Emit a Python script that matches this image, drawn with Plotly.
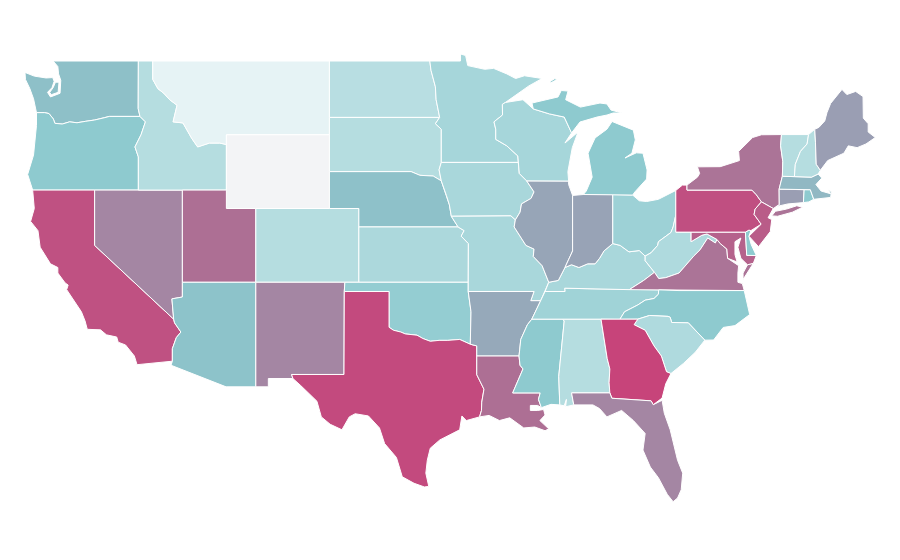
import plotly.graph_objects as go
from plotly.colors import sample_colorscale

# Plotly's own state shapes need a download, so the outlines are kept here as lon/lat pairs
wa = [(-122.82, 49), (-117.03, 49), (-117.04, 46.42), (-116.92, 45.995), (-119, 45.995), (-119.3, 45.93), (-120, 45.8), (-120.6, 45.73), (-121.2, 45.65), (-121.7, 45.7), (-122.2, 45.58), (-122.7, 45.62), (-122.8, 45.85), (-123.1, 46.15), (-123.4, 46.2), (-123.95, 46.2), (-124.05, 46.7), (-124.15, 46.95), (-124.4, 47.5), (-124.7, 48), (-124.73, 48.38), (-124.1, 48.18), (-123.3, 48.08), (-122.85, 48.1), (-122.75, 47.9), (-122.9, 47.55), (-123.2, 47.3), (-123, 47.05), (-122.35, 47.25), (-122.3, 47.95), (-122.45, 48.3), (-122.5, 48.7), None, (-122.66, 47.85), (-122.82, 47.55), (-123.05, 47.3), (-122.95, 47.17), (-122.48, 47.3), (-122.42, 47.85)]
or_ = [(-123.95, 46.2), (-123.4, 46.2), (-123.1, 46.15), (-122.8, 45.85), (-122.7, 45.62), (-122.2, 45.58), (-121.7, 45.7), (-121.2, 45.65), (-120.6, 45.73), (-120, 45.8), (-119.3, 45.93), (-119, 45.995), (-116.92, 45.995), (-116.55, 45.7), (-116.85, 45), (-117.26, 44.34), (-117.03, 43.8), (-117.03, 42), (-124.21, 42), (-124.55, 42.85), (-124.15, 43.9), (-124.05, 44.7), (-123.95, 45.5)]
ca = [(-124.21, 42), (-120, 42), (-120, 39), (-114.63, 35), (-114.57, 34.8), (-114.14, 34.3), (-114.45, 34), (-114.72, 33.4), (-114.72, 32.72), (-117.12, 32.53), (-117.3, 33), (-117.9, 33.6), (-118.4, 33.75), (-118.5, 34.03), (-119.2, 34.15), (-119.6, 34.42), (-120.5, 34.45), (-120.65, 34.9), (-120.9, 35.4), (-121.9, 36.6), (-121.8, 36.85), (-122, 36.96), (-122.5, 37.5), (-122.5, 37.8), (-123, 38), (-123.7, 38.9), (-123.85, 39.8), (-124.35, 40.3), (-124.1, 41)]
nv = [(-120, 42), (-114.04, 42), (-114.04, 36.2), (-114.75, 36.1), (-114.63, 35), (-120, 39)]
id_ = [(-117.03, 49), (-116.05, 49), (-116.05, 48), (-115.7, 47.5), (-115.3, 47.25), (-114.9, 46.9), (-114.4, 46.6), (-114.67, 45.7), (-114, 45.64), (-113.4, 44.8), (-113, 44.34), (-112.2, 44.55), (-111.5, 44.55), (-111.05, 44.47), (-111.05, 42), (-117.03, 42), (-117.03, 43.8), (-117.26, 44.34), (-116.85, 45), (-116.55, 45.7), (-116.92, 45.995), (-117.04, 46.42)]
mt = [(-116.05, 49), (-104.05, 49), (-104.05, 45), (-111.05, 45), (-111.05, 44.47), (-111.5, 44.55), (-112.2, 44.55), (-113, 44.34), (-113.4, 44.8), (-114, 45.64), (-114.67, 45.7), (-114.4, 46.6), (-114.9, 46.9), (-115.3, 47.25), (-115.7, 47.5), (-116.05, 48)]
wy = [(-111.05, 45), (-104.05, 45), (-104.05, 41), (-111.05, 41)]
ut = [(-114.04, 42), (-111.05, 42), (-111.05, 41), (-109.05, 41), (-109.05, 37), (-114.04, 37)]
co = [(-109.05, 41), (-102.05, 41), (-102.05, 37), (-109.05, 37)]
az = [(-114.04, 37), (-109.05, 37), (-109.05, 31.33), (-111.07, 31.33), (-114.81, 32.5), (-114.72, 32.72), (-114.72, 33.4), (-114.45, 34), (-114.14, 34.3), (-114.57, 34.8), (-114.63, 35), (-114.75, 36.1), (-114.04, 36.2)]
nm = [(-109.05, 37), (-103, 37), (-103.04, 36.5), (-103.06, 32), (-106.62, 32), (-106.53, 31.78), (-108.2, 31.78), (-108.2, 31.33), (-109.05, 31.33)]
nd = [(-104.05, 49), (-97.23, 49), (-97.15, 48.5), (-96.85, 47.6), (-96.8, 46.9), (-96.56, 45.94), (-104.05, 45.94)]
sd = [(-104.05, 45.94), (-96.56, 45.94), (-96.85, 45.6), (-96.45, 45.3), (-96.45, 43.5), (-96.6, 43.1), (-96.45, 42.5), (-97, 42.76), (-97.9, 42.8), (-98.5, 43), (-104.05, 43)]
ne = [(-104.05, 43), (-98.5, 43), (-97.9, 42.8), (-97, 42.76), (-96.45, 42.5), (-96.1, 41.7), (-95.9, 41.2), (-95.77, 40.58), (-95.31, 40), (-102.05, 40), (-102.05, 41), (-104.05, 41)]
ks = [(-102.05, 40), (-95.31, 40), (-94.9, 39.8), (-95.1, 39.5), (-94.61, 39.1), (-94.62, 37), (-102.05, 37)]
ok = [(-103, 37), (-94.62, 37), (-94.62, 36.5), (-94.43, 35.4), (-94.48, 33.64), (-95.2, 33.9), (-96, 33.85), (-96.6, 33.85), (-97.2, 33.8), (-97.7, 33.95), (-98.1, 34.13), (-98.9, 34.2), (-99.2, 34.3), (-99.7, 34.4), (-100, 34.56), (-100, 36.5), (-103.04, 36.5)]
tx = [(-106.62, 32), (-103.06, 32), (-103.04, 36.5), (-100, 36.5), (-100, 34.56), (-99.7, 34.4), (-99.2, 34.3), (-98.9, 34.2), (-98.1, 34.13), (-97.7, 33.95), (-97.2, 33.8), (-96.6, 33.85), (-96, 33.85), (-95.2, 33.9), (-94.48, 33.64), (-94.04, 33.55), (-94.04, 31.99), (-93.55, 31.2), (-93.7, 30.5), (-93.72, 30.05), (-93.85, 29.7), (-94.75, 29.5), (-95.05, 29.75), (-95.2, 29), (-96.55, 28.45), (-97.2, 28), (-97.4, 27.35), (-97.5, 26.65), (-97.3, 25.93), (-97.6, 25.9), (-98.3, 26.1), (-99.1, 26.45), (-99.5, 27.5), (-100.3, 28.25), (-100.65, 29.1), (-101.4, 29.75), (-102.3, 29.87), (-102.7, 29.7), (-103.2, 29), (-104, 29.3), (-104.6, 29.7), (-104.9, 30.55), (-106, 31.4), (-106.53, 31.78)]
mn = [(-97.23, 49), (-95.15, 49), (-95.15, 49.38), (-94.8, 49.3), (-94.65, 48.75), (-93.5, 48.55), (-92.9, 48.6), (-92, 48.3), (-91.4, 48.05), (-90.8, 48.2), (-89.6, 48.05), (-90.5, 47.65), (-92.1, 46.75), (-92.3, 46.65), (-92.29, 46.07), (-92.87, 45.7), (-92.75, 45.3), (-92.75, 44.75), (-92, 44.4), (-91.25, 43.85), (-91.22, 43.5), (-96.45, 43.5), (-96.45, 45.3), (-96.85, 45.6), (-96.56, 45.94), (-96.8, 46.9), (-96.85, 47.6), (-97.15, 48.5)]
ia = [(-96.45, 43.5), (-91.22, 43.5), (-91.15, 42.9), (-90.65, 42.5), (-90.15, 41.9), (-90.35, 41.55), (-91, 41.25), (-91.1, 40.8), (-91.42, 40.38), (-91.72, 40.6), (-95.77, 40.58), (-95.9, 41.2), (-96.1, 41.7), (-96.45, 42.5), (-96.6, 43.1)]
mo = [(-95.77, 40.58), (-91.72, 40.6), (-91.42, 40.38), (-91.5, 40), (-90.7, 39), (-90.15, 38.8), (-90.2, 38.4), (-89.6, 37.9), (-89.15, 37), (-89.4, 36.5), (-89.7, 36), (-90.37, 36), (-90.15, 36.5), (-94.62, 36.5), (-94.62, 37), (-94.61, 39.1), (-95.1, 39.5), (-94.9, 39.8), (-95.31, 40)]
ar = [(-94.62, 36.5), (-90.15, 36.5), (-90.37, 36), (-89.7, 36), (-90.3, 35), (-90.6, 34.7), (-91.05, 33.9), (-91.17, 33), (-94.04, 33), (-94.04, 33.55), (-94.48, 33.64), (-94.43, 35.4)]
la = [(-94.04, 33), (-91.17, 33), (-91.1, 32.5), (-90.9, 32.3), (-91.6, 31), (-89.73, 31), (-89.85, 30.65), (-89.65, 30.2), (-89.9, 30.32), (-90.4, 30.32), (-90.4, 30.05), (-89.9, 30.05), (-89.5, 30.1), (-89.4, 29.8), (-89.75, 29.5), (-89.15, 29.05), (-89.4, 28.95), (-90.1, 29.15), (-90.85, 29.1), (-91.8, 29.65), (-92.5, 29.5), (-93.2, 29.78), (-93.85, 29.7), (-93.72, 30.05), (-93.7, 30.5), (-93.55, 31.2), (-94.04, 31.99)]
ms = [(-90.3, 35), (-88.2, 35), (-88.1, 34.9), (-88.47, 31.9), (-88.4, 30.35), (-89, 30.38), (-89.65, 30.2), (-89.85, 30.65), (-89.73, 31), (-91.6, 31), (-90.9, 32.3), (-91.1, 32.5), (-91.17, 33), (-91.05, 33.9), (-90.6, 34.7)]
al = [(-88.2, 35), (-85.6, 35), (-85.18, 32.87), (-85, 32.3), (-85.05, 31.55), (-85, 31), (-87.6, 31), (-87.45, 30.35), (-88, 30.25), (-87.95, 30.65), (-88.1, 30.3), (-88.4, 30.35), (-88.47, 31.9), (-88.1, 34.9)]
tn = [(-90.3, 35), (-89.7, 36), (-89.4, 36.5), (-88.05, 36.5), (-88.07, 36.68), (-86.5, 36.65), (-83.68, 36.6), (-81.68, 36.59), (-81.7, 36.35), (-82, 36.12), (-82.6, 36.03), (-83.1, 35.77), (-84, 35.4), (-84.32, 34.99), (-85.6, 35), (-88.2, 35)]
ky = [(-89.4, 36.5), (-89.15, 37), (-88.5, 37.1), (-88.05, 37.8), (-87.6, 37.95), (-87.1, 37.8), (-86.5, 38), (-86, 38), (-85.7, 38.3), (-85.4, 38.7), (-84.8, 39.1), (-84.3, 39), (-83.7, 38.65), (-83, 38.72), (-82.6, 38.42), (-82.6, 38.17), (-81.97, 37.54), (-82.7, 37.1), (-83.68, 36.6), (-86.5, 36.65), (-88.07, 36.68), (-88.05, 36.5)]
il = [(-87.53, 41.71), (-87.8, 42.3), (-87.8, 42.49), (-90.65, 42.5), (-90.15, 41.9), (-90.35, 41.55), (-91, 41.25), (-91.1, 40.8), (-91.42, 40.38), (-91.5, 40), (-90.7, 39), (-90.15, 38.8), (-90.2, 38.4), (-89.6, 37.9), (-89.15, 37), (-88.5, 37.1), (-88.05, 37.8), (-87.53, 38.7), (-87.53, 39.35)]
in_ = [(-87.53, 41.71), (-87.2, 41.75), (-86.8, 41.76), (-84.8, 41.76), (-84.8, 39.1), (-85.4, 38.7), (-85.7, 38.3), (-86, 38), (-86.5, 38), (-87.1, 37.8), (-87.6, 37.95), (-88.05, 37.8), (-87.53, 38.7), (-87.53, 39.35)]
oh = [(-84.8, 41.76), (-83.45, 41.73), (-83, 41.42), (-82.5, 41.38), (-81.7, 41.5), (-80.52, 41.98), (-80.52, 40.64), (-80.7, 40), (-80.85, 39.7), (-81.7, 39.2), (-81.75, 39), (-82.2, 38.6), (-82.6, 38.42), (-83, 38.72), (-83.7, 38.65), (-84.3, 39), (-84.8, 39.1)]
wv = [(-80.52, 40.64), (-80.52, 39.72), (-79.48, 39.72), (-79.48, 39.2), (-78.75, 39.55), (-78.4, 39.62), (-77.72, 39.32), (-77.83, 39.13), (-78.35, 39.4), (-78.87, 38.76), (-79.3, 38.42), (-80.3, 37.5), (-81.2, 37.25), (-81.68, 37.2), (-81.97, 37.54), (-82.6, 38.17), (-82.6, 38.42), (-82.2, 38.6), (-81.75, 39), (-81.7, 39.2), (-80.85, 39.7), (-80.7, 40)]
va = [(-83.68, 36.6), (-81.68, 36.59), (-80.3, 36.55), (-75.87, 36.55), (-76, 36.93), (-76.3, 37), (-76.3, 37.5), (-76.25, 37.9), (-77, 38.3), (-77.05, 38.8), (-77.5, 39.1), (-77.72, 39.32), (-77.83, 39.13), (-78.35, 39.4), (-78.87, 38.76), (-79.3, 38.42), (-80.3, 37.5), (-81.2, 37.25), (-81.68, 37.2), (-81.97, 37.54), (-82.7, 37.1), None, (-75.95, 37.15), (-75.6, 37.6), (-75.25, 38.03), (-75.65, 37.95), (-75.95, 37.5)]
md = [(-79.48, 39.72), (-75.79, 39.72), (-75.7, 38.46), (-75.05, 38.45), (-75.25, 38.03), (-75.65, 37.95), (-76.1, 38.3), (-76.3, 38.9), (-76.1, 39.4), (-76.5, 39.2), (-76.5, 38.5), (-76.35, 38.1), (-77, 38.3), (-77.05, 38.8), (-77.5, 39.1), (-77.72, 39.32), (-78.4, 39.62), (-78.75, 39.55), (-79.48, 39.2)]
de = [(-75.79, 39.72), (-75.55, 39.83), (-75.42, 39.8), (-75.55, 39.5), (-75.4, 39.05), (-75.05, 38.45), (-75.7, 38.46)]
pa = [(-80.52, 41.98), (-80.07, 42.27), (-79.76, 42.27), (-79.76, 42), (-75.35, 42), (-75.05, 41.75), (-74.7, 41.36), (-75.13, 40.97), (-75.2, 40.68), (-74.72, 40.15), (-75.42, 39.8), (-75.55, 39.83), (-75.79, 39.72), (-80.52, 39.72)]
ny = [(-79.76, 42.27), (-79.05, 42.7), (-78.9, 42.9), (-79.05, 43.26), (-77.5, 43.27), (-76.5, 43.5), (-76.2, 43.6), (-76.25, 44.1), (-75.3, 44.85), (-74.7, 45), (-73.34, 45.01), (-73.4, 44.4), (-73.25, 43.55), (-73.28, 42.75), (-73.5, 42.05), (-73.49, 41.2), (-73.72, 41.1), (-73.9, 41), (-74.7, 41.36), (-75.05, 41.75), (-75.35, 42), (-79.76, 42), None, (-74, 40.6), (-73.75, 40.85), (-73, 40.97), (-72.3, 41.15), (-71.9, 41.07), (-72.6, 40.8), (-73.6, 40.58)]
nj = [(-74.7, 41.36), (-73.9, 41), (-74.25, 40.5), (-74, 40.4), (-74.1, 39.75), (-74.9, 38.93), (-75.55, 39.5), (-74.72, 40.15), (-75.2, 40.68), (-75.13, 40.97)]
ct = [(-73.5, 42.05), (-71.8, 42.02), (-71.85, 41.32), (-72.9, 41.25), (-73.72, 41.1), (-73.49, 41.2)]
ri = [(-71.8, 42.02), (-71.38, 42.02), (-71.15, 41.5), (-71.48, 41.36), (-71.85, 41.32)]
ma = [(-73.5, 42.05), (-73.28, 42.75), (-71.3, 42.7), (-70.85, 42.87), (-70.6, 42.65), (-71, 42.3), (-70.65, 41.95), (-70, 41.8), (-70.2, 42.07), (-69.95, 41.9), (-70, 41.6), (-70.65, 41.55), (-71.15, 41.5), (-71.38, 42.02), (-71.8, 42.02)]
vt = [(-73.34, 45.01), (-71.5, 45.01), (-71.6, 44.5), (-72.05, 44.1), (-72.4, 43.4), (-72.46, 42.73), (-73.28, 42.75), (-73.25, 43.55), (-73.4, 44.4)]
nh = [(-71.5, 45.01), (-71.08, 45.3), (-71.03, 44.6), (-70.98, 43.4), (-70.7, 43.07), (-70.85, 42.87), (-71.3, 42.7), (-72.46, 42.73), (-72.4, 43.4), (-72.05, 44.1), (-71.6, 44.5)]
me = [(-71.08, 45.3), (-70.8, 45.4), (-70.4, 45.75), (-70.25, 46.2), (-70, 46.7), (-69.23, 47.46), (-68.9, 47.18), (-68.3, 47.35), (-67.8, 47.07), (-67.78, 45.9), (-67.45, 45.6), (-67.45, 45.15), (-66.97, 44.85), (-67.6, 44.5), (-68.2, 44.3), (-68.8, 44.4), (-69.1, 44), (-69.8, 43.75), (-70.2, 43.6), (-70.7, 43.07), (-70.98, 43.4), (-71.03, 44.6)]
nc = [(-84.32, 34.99), (-84, 35.4), (-83.1, 35.77), (-82.6, 36.03), (-82, 36.12), (-81.7, 36.35), (-81.68, 36.59), (-80.3, 36.55), (-75.87, 36.55), (-75.5, 35.25), (-76.5, 34.65), (-77.3, 34.55), (-77.95, 33.87), (-78.55, 33.86), (-79.67, 34.8), (-80.8, 34.82), (-80.9, 35.1), (-81.05, 35.15), (-82.3, 35.2), (-83.1, 35)]
sc = [(-83.1, 35), (-82.3, 35.2), (-81.05, 35.15), (-80.9, 35.1), (-80.8, 34.82), (-79.67, 34.8), (-78.55, 33.86), (-79.2, 33.2), (-80, 32.6), (-80.85, 32.05), (-81.15, 32.15), (-81.5, 33), (-82, 33.55), (-82.6, 34.4), (-83.35, 34.7)]
ga = [(-85.6, 35), (-84.32, 34.99), (-83.1, 35), (-83.35, 34.7), (-82.6, 34.4), (-82, 33.55), (-81.5, 33), (-81.15, 32.15), (-80.85, 32.05), (-81.2, 31.5), (-81.45, 30.72), (-82.05, 30.36), (-82.2, 30.57), (-84.86, 30.71), (-85, 31), (-85.05, 31.55), (-85, 32.3), (-85.18, 32.87)]
fl = [(-87.6, 31), (-85, 31), (-84.86, 30.71), (-82.2, 30.57), (-82.05, 30.36), (-81.45, 30.6), (-81.3, 29.9), (-80.9, 29), (-80.4, 27.35), (-80.05, 26.65), (-80.15, 25.75), (-80.4, 25.3), (-80.7, 25.1), (-81.1, 25.5), (-81.7, 26.4), (-82.25, 26.98), (-82.75, 27.9), (-82.6, 28.8), (-83.4, 29.5), (-84.2, 30.05), (-85.2, 29.7), (-85.7, 30.15), (-86.15, 30.35), (-87.45, 30.35)]
wi = [(-92.29, 46.07), (-92.3, 46.65), (-92.1, 46.75), (-90.9, 46.9), (-90.2, 46.4), (-89.1, 46.13), (-88.1, 45.96), (-87.75, 45.35), (-87.6, 45.1), (-88.05, 44.55), (-87.16, 45.15), (-87.55, 44.3), (-87.85, 43), (-87.8, 42.49), (-90.65, 42.5), (-91.15, 42.9), (-91.22, 43.5), (-91.25, 43.85), (-92, 44.4), (-92.75, 44.75), (-92.75, 45.3), (-92.87, 45.7)]
mi = [(-86.8, 41.76), (-84.8, 41.76), (-83.45, 41.73), (-83.3, 41.9), (-82.5, 42.6), (-82.47, 43.09), (-82.75, 44), (-83.2, 44.02), (-83.97, 43.74), (-83.5, 44), (-83.27, 44.72), (-83.4, 45.25), (-84.85, 45.72), (-85.2, 45.3), (-86, 44.83), (-86.48, 44), (-86.2, 42.7), (-86.6, 41.95), None, (-90.2, 46.4), (-89.1, 46.13), (-88.1, 45.96), (-87.75, 45.35), (-87.6, 45.1), (-87.03, 45.69), (-86.55, 45.8), (-85.87, 45.96), (-85.19, 46.07), (-84.78, 46.18), (-84.17, 46.18), (-84.92, 46.34), (-85.2, 46.67), (-85.67, 46.72), (-87, 46.5), (-88, 46.9), (-87.84, 47.37), (-88.3, 47.4), (-88.52, 47.05), (-90.29, 46.72), None, (-89.07, 47.88), (-88.73, 48.05), (-88.62, 47.98), (-89, 47.82)]

states = ["WA", "OR", "CA", "NV", "ID", "MT", "WY", "UT", "CO", "AZ", "NM", "ND", "SD", "NE", "KS", "OK", "TX", "MN", "IA", "MO", "AR", "LA", "MS", "AL", "TN", "KY", "IL", "IN", "OH", "WV", "VA", "MD", "DE", "PA", "NY", "NJ", "CT", "RI", "MA", "VT", "NH", "ME", "NC", "SC", "GA", "FL", "WI", "MI"]
outlines = [wa, or_, ca, nv, id_, mt, wy, ut, co, az, nm, nd, sd, ne, ks, ok, tx, mn, ia, mo, ar, la, ms, al, tn, ky, il, in_, oh, wv, va, md, de, pa, ny, nj, ct, ri, ma, vt, nh, me, nc, sc, ga, fl, wi, mi]
values = [45, 39, 94, 71, 26, 10, 0, 80, 26, 43, 71, 25, 26, 44, 29, 37, 97, 31, 30, 30, 57, 80, 39, 26, 33, 30, 59, 60, 34, 28, 78, 86, 39, 95, 78, 89, 62, 39, 49, 26, 26, 62, 39, 28, 100, 71, 31, 39]

colorscale = [[0, "#f3f4f6"], [0.1, "#e6f3f5"], [0.4, "#8bc9ce"], [0.6, "#98a3b6"], [0.8, "#ad6f94"], [1, "#c7447a"]]

fig = go.Figure()
for state, outline, value in zip(states, outlines, values):
    # close each piece of the state, None starts the next piece
    lons, lats, first = [], [], None
    for point in outline + [None]:
        if point is None:
            lons += [first[0], None]
            lats += [first[1], None]
            first = None
            continue
        if first is None:
            first = point
        lons.append(point[0])
        lats.append(point[1])
    fig.add_trace(
        go.Scatter(
            x=lons,
            y=lats,
            name=state,
            mode="lines",
            fill="toself",
            fillcolor=sample_colorscale(colorscale, value / 100)[0],
            line=dict(color="white", width=1),
            hoveron="fills",
        )
    )

# the page adds an 8px margin round the plot, the ranges allow for it
fig.update_xaxes(visible=False, range=[-125.885, -64.745])
fig.update_yaxes(visible=False, range=[21.505, 51.874])
fig.update_layout(
    width=900,
    height=560,
    margin=dict(l=0, r=0, t=0, b=0),
    paper_bgcolor="white",
    plot_bgcolor="white",
    showlegend=False,
)
fig.write_html("out.html")
